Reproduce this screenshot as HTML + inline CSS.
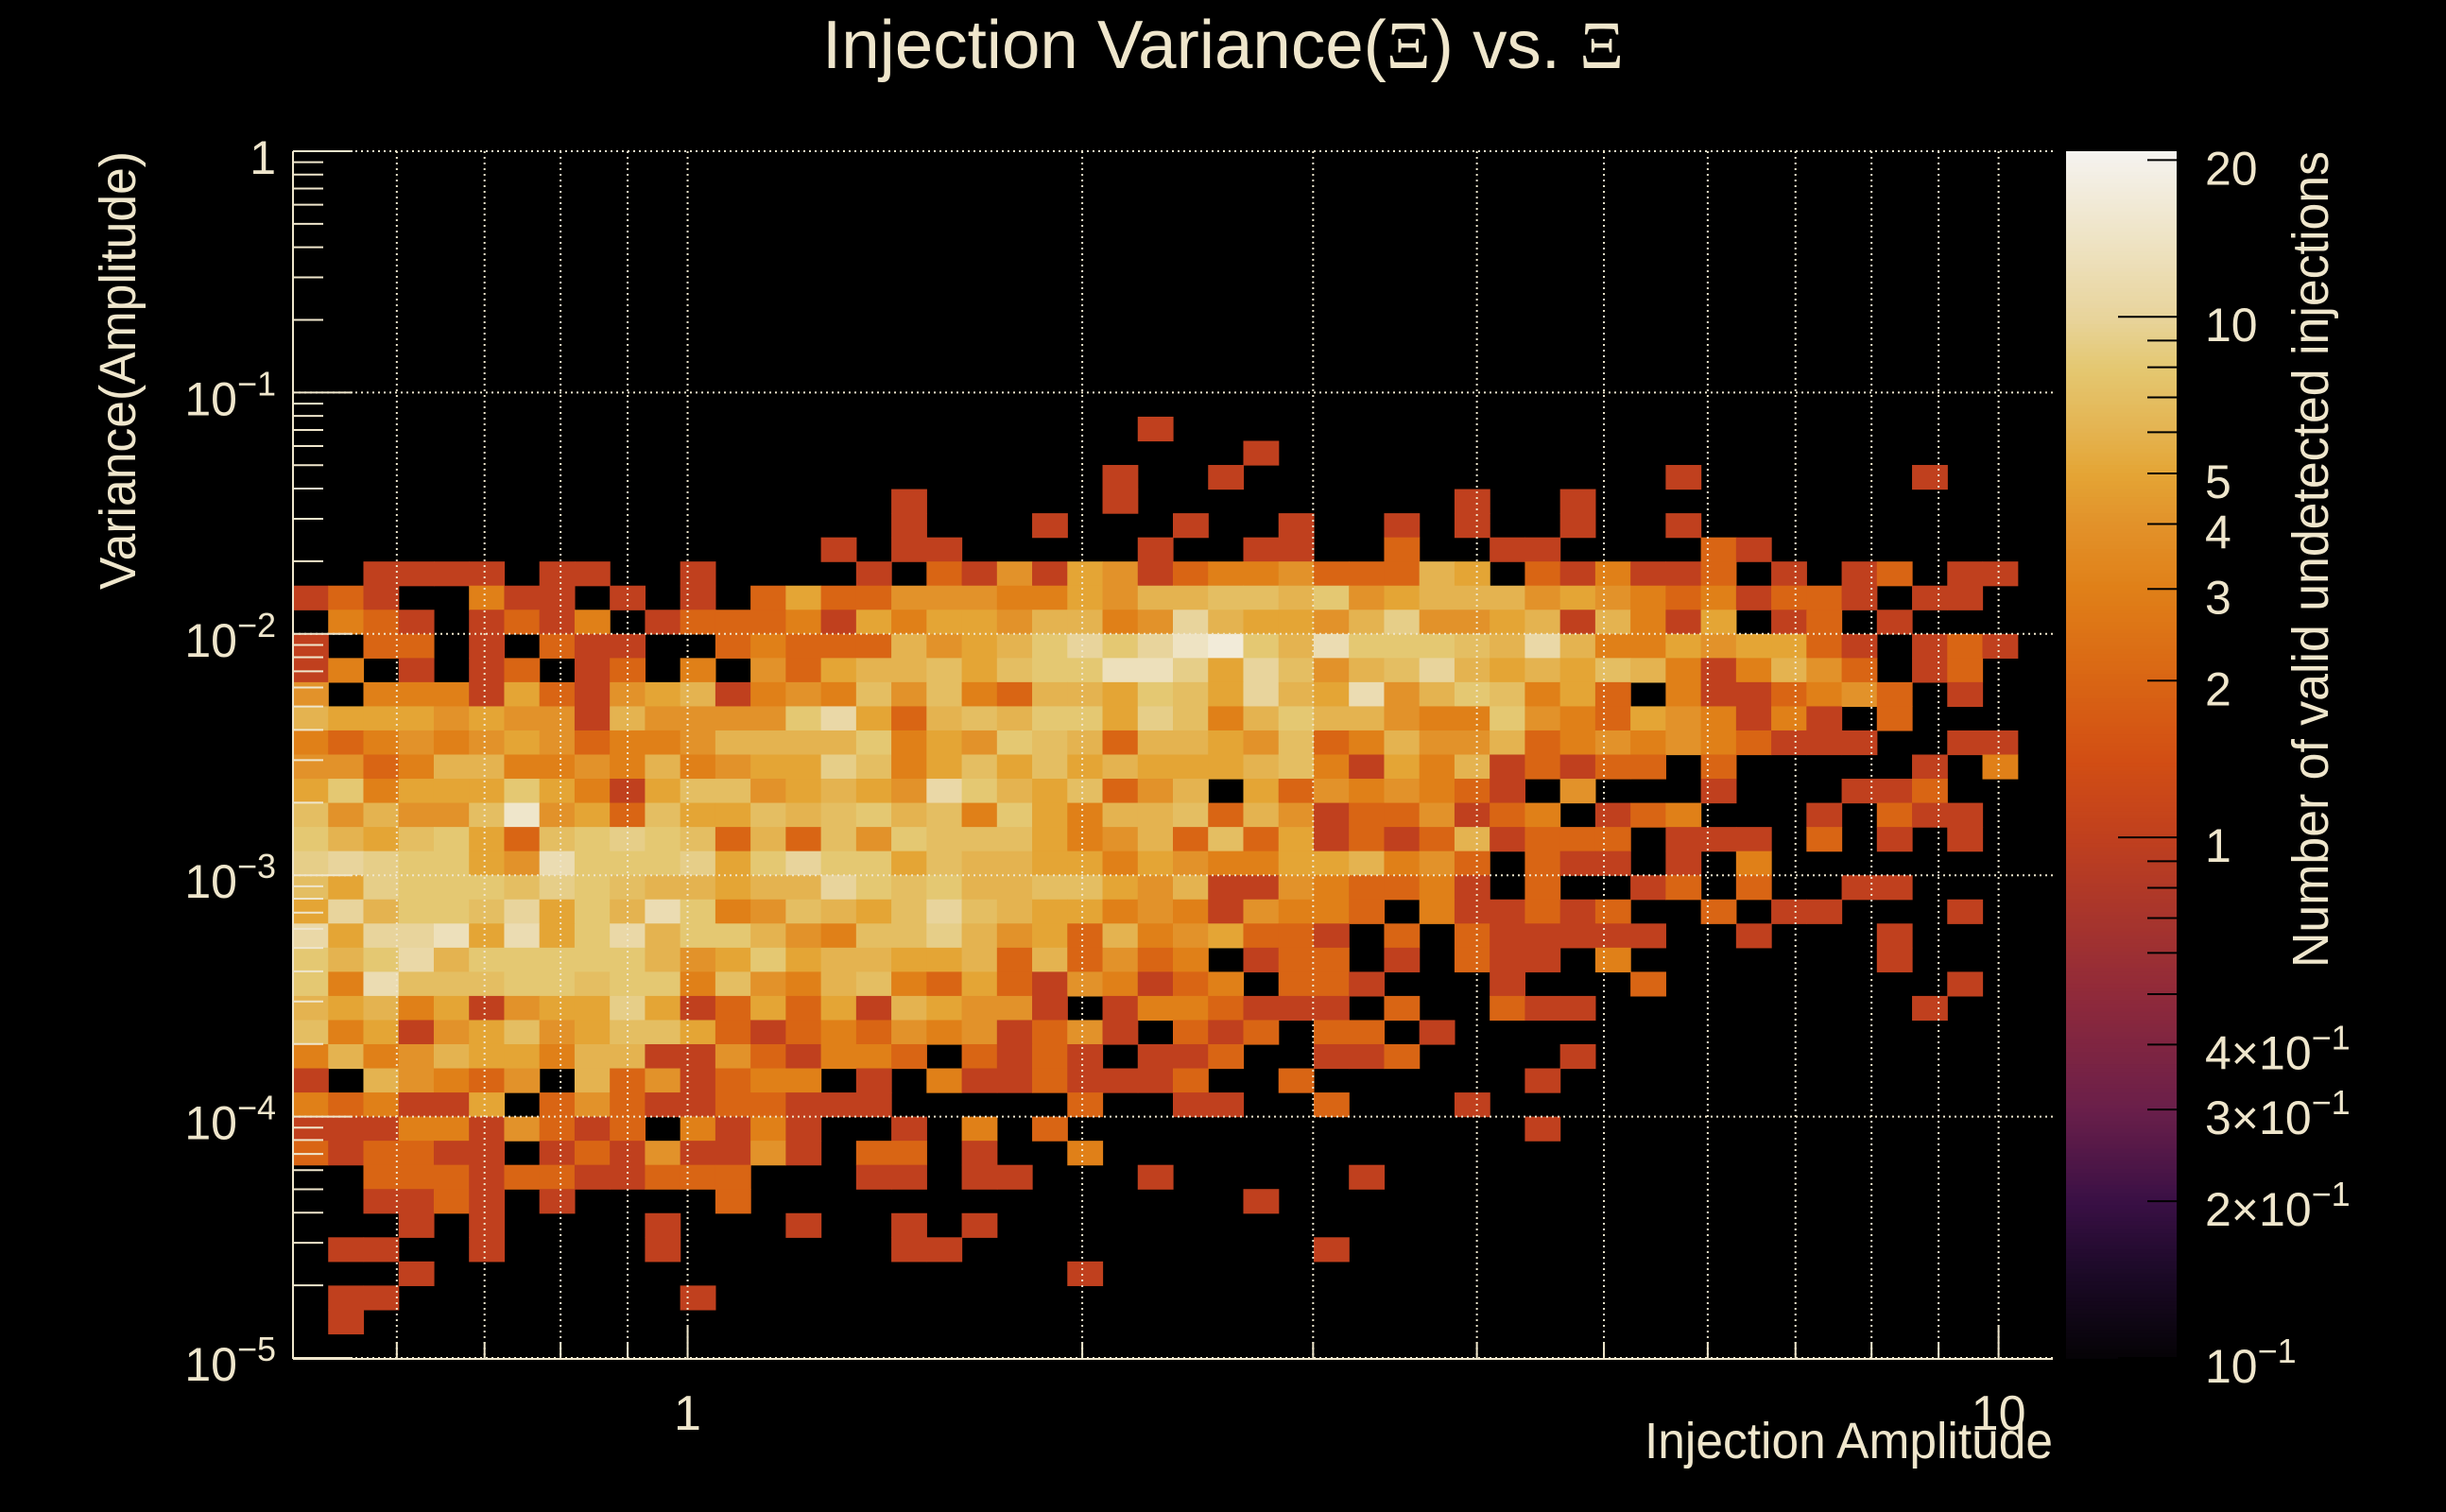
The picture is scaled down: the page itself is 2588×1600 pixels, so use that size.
<!DOCTYPE html>
<html><head><meta charset="utf-8"><title>Injection Variance vs Xi</title>
<style>
html,body{margin:0;padding:0;background:#000;}
svg{display:block;}
text{font-family:"Liberation Sans",sans-serif;fill:#efe6cc;}
</style></head>
<body>
<svg id="chart" width="2588" height="1600" viewBox="0 0 2588 1600" xmlns="http://www.w3.org/2000/svg">
<rect x="0" y="0" width="2588" height="1600" fill="#000"/>
<g id="cells"></g>
<g id="grid"></g>
<g id="axes"></g>
<g id="cbar"></g>
<text x="1294" y="72" font-size="72" text-anchor="middle" textLength="848" lengthAdjust="spacingAndGlyphs">Injection Variance(<tspan font-family="Liberation Serif, serif">Ξ</tspan>) vs. <tspan font-family="Liberation Serif, serif">Ξ</tspan></text>
<text x="2172" y="1543" font-size="54" text-anchor="end" textLength="432" lengthAdjust="spacingAndGlyphs">Injection Amplitude</text>
<text transform="translate(143,160) rotate(-90)" x="0" y="0" font-size="54" text-anchor="end" textLength="464" lengthAdjust="spacingAndGlyphs">Variance(Amplitude)</text>
<text transform="translate(2463,160) rotate(-90)" x="0" y="0" font-size="54" text-anchor="end" textLength="864" lengthAdjust="spacingAndGlyphs">Number of valid undetected injections</text>
</svg>
<script>
// ---- data ----
const xMin = 0.5, xMax = 11, nBinsX = 50;
const yMin = 1e-5, yMax = 1, nBinsY = 50;
const zMin = 0.1, zMax = 20.8;
const firstRow = 11;
const counts = [
[0,0,0,0,0,0,0,0,0,0,0,0,0,0,0,0,0,0,0,0,0,0,0,0,1,0,0,0,0,0,0,0,0,0,0,0,0,0,0,0,0,0,0,0,0,0,0,0,0,0],
[0,0,0,0,0,0,0,0,0,0,0,0,0,0,0,0,0,0,0,0,0,0,0,0,0,0,0,1,0,0,0,0,0,0,0,0,0,0,0,0,0,0,0,0,0,0,0,0,0,0],
[0,0,0,0,0,0,0,0,0,0,0,0,0,0,0,0,0,0,0,0,0,0,0,1,0,0,1,0,0,0,0,0,0,0,0,0,0,0,0,1,0,0,0,0,0,0,1,0,0,0],
[0,0,0,0,0,0,0,0,0,0,0,0,0,0,0,0,0,1,0,0,0,0,0,1,0,0,0,0,0,0,0,0,0,1,0,0,1,0,0,0,0,0,0,0,0,0,0,0,0,0],
[0,0,0,0,0,0,0,0,0,0,0,0,0,0,0,0,0,1,0,0,0,1,0,0,0,1,0,0,1,0,0,1,0,1,0,0,1,0,0,1,0,0,0,0,0,0,0,0,0,0],
[0,0,0,0,0,0,0,0,0,0,0,0,0,0,0,1,0,1,1,0,0,0,0,0,1,0,0,1,1,0,0,2,0,0,1,1,0,0,0,0,2,1,0,0,0,0,0,0,0,0],
[0,0,1,1,1,1,0,1,1,0,0,1,0, 0,0,0,1,0,2,1,4,1,5,4,1, 2,3,3,4,2,2,2,6,5,0,2,1,3, 1,1,2,0,1,0,1,2,0,1,1,0],
[1,2,1,0,0,3,1,1,0,1,0,1,0, 2,5,2,2,4,4,4,3,3,5,4,6, 6,7,7,6,8,4,5,6,6,6,4,5,4, 3,2,3,1,2,2,1,0,1,1,0,0],
[0,3,2,1,0,1,2,1,3,0,1,2,2, 2,3,1,5,3,5,5,4,6,6,3,4, 10,6,5,5,4,6,9,4,4,5,6,1,6, 3,1,5,0,1,2,0,1,0,0,0,0],
[1,0,2,2,0,1,0,2,1,1,0,0,2, 3,2,2,2,6,4,5,6,8,10,8,10, 14,17,8,6,12,8,8,8,7,6,11,6,3, 3,5,4,5,5,2,1,0,1,2,1,0],
[1,3,0,1,0,1,2,0,1,2,0,3,0, 4,2,5,6,6,7,5,7,8,8,13,13, 9,5,10,7,4,6,7,10,6,5,6,5,7, 6,3,1,3,6,4,2,0,1,2,0,0],
[4,0,3,3,3,1,5,2,1,4,5,6,1, 3,4,3,7,4,7,3,2,6,6,5,8, 7,5,10,6,5,12,4,6,8,7,3,5,2, 0,3,1,1,2,3,4,2,0,1,0,0],
[6,5,5,5,4,5,4,4,1,6,4,4,4, 4,8,11,5,2,6,7,6,8,8,5,9, 7,3,6,8,6,6,4,3,3,8,4,3,2, 5,4,3,1,3,1,0,2,0,0,0,0],
[3,2,3,4,3,4,5,4,2,3,3,4,6, 6,6,6,8,3,5,4,8,7,6,2,6, 6,5,4,7,2,3,6,4,4,6,2,3,4, 3,4,3,2,1,1,1,0,0,1,1,0],
[4,4,2,3,6,6,3,3,4,3,6,3,4, 5,5,9,7,3,5,7,5,7,5,6,5, 5,5,6,7,3,1,5,3,6,1,2,1,2, 2,0,2,0,0,0,0,0,1,0,3,0],
[5,8,3,5,5,5,8,5,3,1,5,7,7, 4,5,6,5,4,11,8,6,5,7,2,4, 6,0,5,2,4,3,4,3,2,1,0,4,0, 0,0,1,0,0,0,1,1,2,0,0,0],
[7,4,6,4,4,7,15,4,5,2,7,5,5, 7,6,7,8,6,7,3,8,5,3,6,6, 7,2,6,4,1,2,2,4,1,2,3,0,1, 2,3,0,0,0,1,0,2,1,1,0,0],
[8,6,5,7,8,5,2,7,8,9,8,7,2, 6,2,7,4,8,7,7,7,5,3,4,6, 2,7,2,5,1,2,1,2,6,1,2,2,2, 0,1,1,1,0,2,0,1,0,1,0,0],
[9,10,9,8,8,5,4,12,8,8,8,9,5, 8,10,8,8,5,7,6,6,5,5,3,5, 4,3,3,5,5,6,3,4,2,0,2,1,1, 0,1,0,3,0,0,0,0,0,0,0,0],
[7,5,9,8,8,8,7,9,8,7,6,6,5, 6,6,10,8,7,8,6,6,7,7,5,4, 6,1,1,4,3,2,2,3,1,0,2,0,0, 1,2,0,2,0,0,1,1,0,0,0,0],
[5,10,6,8,8,7,10,5,8,6,12,8,3, 4,7,6,5,7,10,7,6,5,5,3,4, 3,1,4,3,3,2,0,3,1,1,2,1,2, 0,0,2,0,1,1,0,0,0,1,0,0],
[11,5,10,10,13,5,12,5,8,11,6,8,8, 6,4,3,7,7,9,6,4,5,2,6,3, 4,5,2,2,1,0,2,0,2,1,1,1,1, 1,0,0,1,0,0,0,1,0,0,0,0],
[8,6,8,11,6,8,8,8,8,8,6,4,5, 8,5,6,6,5,5,6,2,6,2,4,2, 3,0,1,2,2,0,1,0,2,1,1,0,3, 0,0,0,0,0,0,0,1,0,0,0,0],
[8,3,12,7,7,7,8,8,7,8,8,3,7, 4,3,6,7,3,2,5,2,1,4,3,1, 2,3,0,2,2,1,0,0,0,1,0,0,0, 2,0,0,0,0,0,0,0,0,1,0,0],
[6,5,6,3,5,1,4,5,5,9,5,1,2, 5,2,5,1,6,5,4,4,1,0,1,3, 3,2,1,1,1,0,2,0,0,2,1,1,0, 0,0,0,0,0,0,0,0,1,0,0,0],
[7,3,5,1,4,5,7,4,5,7,7,5,2, 1,2,3,2,4,3,4,1,2,4,1,0, 2,1,2,0,2,2,0,1,0,0,0,0,0, 0,0,0,0,0,0,0,0,0,0,0,0],
[3,6,3,4,6,5,5,3,6,6,1,1,4, 2,1,3,3,2,0,2,1,2,1,0,1, 1,2,0,0,1,1,2,0,0,0,0,1,0, 0,0,0,0,0,0,0,0,0,0,0,0],
[1,0,6,4,3,2,4,0,6,2,4,1,2, 3,3,0,1,0,3,1,1,2,1,1,1, 2,0,0,2,0,0,0,0,0,0,1,0,0, 0,0,0,0,0,0,0,0,0,0,0,0],
[3,2,3,1,1,5,0,2,4,2,1,1,2, 2,1,1,1,0,0,0,0,0,2,0,0, 1,1,0,0,2,0,0,0,1,0,0,0,0, 0,0,0,0,0,0,0,0,0,0,0,0],
[1,1,1,3,3,1,4,2,1,2,0,3,1, 3,1,0,0,1,0,3,0,2,0,0,0, 0,0,0,0,0,0,0,0,0,0,1,0,0, 0,0,0,0,0,0,0,0,0,0,0,0],
[2,1,2,2,1,1,0,1,2,1,4,1,1, 4,1,0,2,2,0,1,0,0,3,0,0, 0,0,0,0,0,0,0,0,0,0,0,0,0, 0,0,0,0,0,0,0,0,0,0,0,0],
[0,0,2,2,2,1,2,2,1,1,2,2,2, 0,0,0,1,1,0,1,1,0,0,0,1, 0,0,0,0,0,1,0,0,0,0,0,0,0, 0,0,0,0,0,0,0,0,0,0,0,0],
[0,0,1,1,2,1,0,1,0,0,0,0,2, 0,0,0,0,0,0,0,0,0,0,0,0, 0,0,1,0,0,0,0,0,0,0,0,0,0, 0,0,0,0,0,0,0,0,0,0,0,0],
[0,0,0,1,0,1,0,0,0,0,1,0,0, 0,1,0,0,1,0,1,0,0,0,0,0, 0,0,0,0,0,0,0,0,0,0,0,0,0, 0,0,0,0,0,0,0,0,0,0,0,0],
[0,1,1,0,0,1,0,0,0,0,1,0,0, 0,0,0,0,1,1,0,0,0,0,0,0, 0,0,0,0,1,0,0,0,0,0,0,0,0, 0,0,0,0,0,0,0,0,0,0,0,0],
[0,0,0,1,0,0,0,0,0,0,0,0,0, 0,0,0,0,0,0,0,0,0,1,0,0, 0,0,0,0,0,0,0,0,0,0,0,0,0, 0,0,0,0,0,0,0,0,0,0,0,0],
[0,1,1,0,0,0,0,0,0,0,0,1,0, 0,0,0,0,0,0,0,0,0,0,0,0, 0,0,0,0,0,0,0,0,0,0,0,0,0, 0,0,0,0,0,0,0,0,0,0,0,0],
[0,1,0,0,0,0,0,0,0,0,0,0,0, 0,0,0,0,0,0,0,0,0,0,0,0, 0,0,0,0,0,0,0,0,0,0,0,0,0, 0,0,0,0,0,0,0,0,0,0,0,0]
];
const xTickLabels = ["1","10"];
const xTickValues = [1,10];
const yTickExponents = [0,-1,-2,-3,-4,-5];
const zMajorValues = [0.1,0.2,0.3,0.4,1,2,3,4,5,10,20];
const zMajorLabels = ["10^-1","2×10^-1","3×10^-1","4×10^-1","1","2","3","4","5","10","20"];
const cmapValues = [0.1,0.15,0.2,0.3,0.5,1,1.4,2,3,4,5,6,8,10,13,20.8];
const cmapColors = ["#050306","#1e0a2a","#3a1045","#6a1f4a","#902a3a","#c0401e","#d24e14","#d96514","#e08018","#e2922a","#e4a535","#e4b350","#e4c872","#e8d49c","#ede0bb","#f5f3f0"];

// ---- geometry ----
const PL = 310, PR = 2172, PT = 160, PB = 1437;
const CBL = 2186, CBR = 2303;
const NS = "http://www.w3.org/2000/svg";
const lg = Math.log10;
function xToPx(v){ return PL + (lg(v)-lg(xMin))/(lg(xMax)-lg(xMin))*(PR-PL); }
function yToPx(v){ return PT + (lg(yMax)-lg(v))/(lg(yMax)-lg(yMin))*(PB-PT); }
function zToPx(v){ return PT + (lg(zMax)-lg(v))/(lg(zMax)-lg(zMin))*(PB-PT); }
function hex(c){ return [1,3,5].map(i=>parseInt(c.substr(i,2),16)); }
function colorFor(v){
  const l = lg(Math.max(zMin, Math.min(zMax, v)));
  for (let i=0;i<cmapValues.length-1;i++){
    const a=lg(cmapValues[i]), b=lg(cmapValues[i+1]);
    if (l<=b){ const t=(l-a)/(b-a); const A=hex(cmapColors[i]), B=hex(cmapColors[i+1]);
      return "rgb("+A.map((x,k)=>Math.round(x+(B[k]-x)*t)).join(",")+")"; }
  }
  return cmapColors[cmapColors.length-1];
}
function mk(tag, attrs, parent){ const e=document.createElementNS(NS,tag); for(const k in attrs) e.setAttribute(k,attrs[k]); parent.appendChild(e); return e; }

// ---- cells ----
const gCells = document.getElementById("cells");
const lxStep = (lg(xMax)-lg(xMin))/nBinsX, lyStep = (lg(yMax)-lg(yMin))/nBinsY;
counts.forEach((row, r) => {
  const rowIdx = firstRow + r;
  const yHi = Math.pow(10, lg(yMax) - rowIdx*lyStep), yLo = Math.pow(10, lg(yMax) - (rowIdx+1)*lyStep);
  row.forEach((v, c) => {
    if (!v) return;
    const x0 = xToPx(Math.pow(10, lg(xMin)+c*lxStep)), x1 = xToPx(Math.pow(10, lg(xMin)+(c+1)*lxStep));
    const y0 = yToPx(yHi), y1 = yToPx(yLo);
    const el = mk("rect", {x:x0.toFixed(2), y:y0.toFixed(2), width:(x1-x0+0.6).toFixed(2), height:(y1-y0+0.6).toFixed(2), fill:colorFor(v)}, gCells);
    
    
  });
});

// ---- grid ----
const gGrid = document.getElementById("grid");
const gridStyle = {stroke:"#efe6cc","stroke-width":"2","stroke-dasharray":"2 4"};
const xGridVals = [0.6,0.7,0.8,0.9,1,2,3,4,5,6,7,8,9,10];
xGridVals.forEach(v => {
  const x = xToPx(v);
  const el = mk("line", Object.assign({x1:x,x2:x,y1:PT,y2:PB}, gridStyle), gGrid);
  
  
});
yTickExponents.forEach(e => {
  const y = yToPx(Math.pow(10,e));
  const el = mk("line", Object.assign({x1:PL,x2:PR,y1:y,y2:y}, gridStyle), gGrid);
  
  
});

// ---- axes ----
const gAx = document.getElementById("axes");
const axStyle = {stroke:"#efe6cc","stroke-width":"2"};
let ax = mk("line", Object.assign({x1:PL,x2:PL,y1:PT,y2:PB+1}, axStyle), gAx);


ax = mk("line", Object.assign({x1:PL,x2:PR,y1:PB+1,y2:PB+1}, axStyle), gAx);


for (let e=0; e>=-5; e--) {
  for (let m=1; m<=9; m++) {
    const vv = (m===1) ? Math.pow(10,e) : m*Math.pow(10,e-1);
    if (vv < yMin || vv > yMax) continue;
    const y = yToPx(vv);
    const len = m===1 ? 63 : 32;
    const t = mk("line", Object.assign({x1:PL,x2:PL+len,y1:y,y2:y}, axStyle), gAx);
    
    
  }
}
[0.5,0.6,0.7,0.8,0.9,1,2,3,4,5,6,7,8,9,10].forEach(v => {
  const x = xToPx(v);
  const len = (v===1||v===10) ? 36 : 18;
  const t = mk("line", Object.assign({x1:x,x2:x,y1:PB+1,y2:PB+1-len}, axStyle), gAx);
  
  
});
yTickExponents.forEach(e => {
  const y = yToPx(Math.pow(10,e));
  const t = mk("text", {x:292, y:(y+24).toFixed(1), "font-size":"50", "text-anchor":"end"}, gAx);
  
  
  if (e===0) { t.textContent = "1"; }
  else {
    const a = document.createElementNS(NS,"tspan"); a.textContent="10"; t.appendChild(a);
    const b = document.createElementNS(NS,"tspan"); b.setAttribute("dy","-21"); b.setAttribute("font-size","36"); b.textContent="−"+(-e); t.appendChild(b);
  }
});
xTickValues.forEach((v,i) => {
  const t = mk("text", {x:xToPx(v).toFixed(1), y:1513, "font-size":"52", "text-anchor":"middle"}, gAx);
  
  
  t.textContent = xTickLabels[i];
});

// ---- color bar ----
const gCb = document.getElementById("cbar");
const nStrips = 300;
for (let i=0;i<nStrips;i++){
  const y0 = PT + i*(PB-PT)/nStrips, y1 = PT+(i+1)*(PB-PT)/nStrips;
  const lv = lg(zMax) - (i+0.5)/nStrips*(lg(zMax)-lg(zMin));
  const s = mk("rect",{x:CBL,y:y0.toFixed(2),width:CBR-CBL,height:(y1-y0+0.8).toFixed(2),fill:colorFor(Math.pow(10,lv))},gCb);
  
  
}
[0.1,0.2,0.3,0.4,0.5,0.6,0.7,0.8,0.9,1,2,3,4,5,6,7,8,9,10,20].forEach(v => {
  const y = zToPx(v);
  const len = (v===1||v===10||v===0.1) ? 62 : 31;
  const t = mk("line",{x1:CBR,x2:CBR-len,y1:y,y2:y,stroke:"#000","stroke-width":"2"},gCb);
  
  
});
zMajorValues.forEach((v,i) => {
  const y = zToPx(v);
  const lab = zMajorLabels[i];
  const t = mk("text",{x:2333,y:(y+26).toFixed(1),"font-size":"50"},gCb);
  
  
  if (lab.indexOf("^")>=0){
    const parts = lab.split("^");
    const a = document.createElementNS(NS,"tspan"); a.textContent=parts[0]; t.appendChild(a);
    const b = document.createElementNS(NS,"tspan"); b.setAttribute("dy","-21"); b.setAttribute("font-size","36"); b.textContent=parts[1].replace("-","−"); t.appendChild(b);
  } else t.textContent = lab;
});
</script>
</body></html>
